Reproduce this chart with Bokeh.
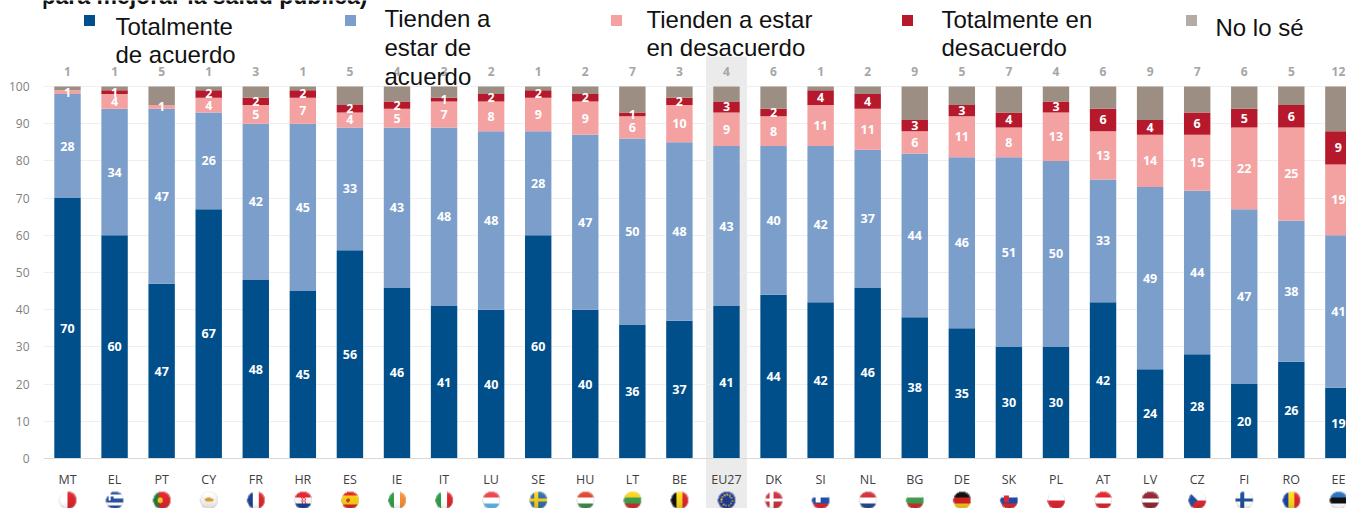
import numpy as np
from bokeh.plotting import figure
from bokeh.models import ColumnDataSource, Range1d, FixedTicker, Label
from bokeh.core.properties import value
from bokeh.embed import file_html
from bokeh.resources import INLINE

categories = ["MT","EL","PT","CY","FR","HR","ES","IE","IT","LU","SE","HU","LT","BE","EU27",
              "DK","SI","NL","BG","DE","SK","PL","AT","LV","CZ","FI","RO","EE"]
tot_agree  = [70,60,47,67,48,45,56,46,41,40,60,40,36,37,41,44,42,46,38,35,30,30,42,24,28,20,26,19]
tend_agree = [28,34,47,26,42,45,33,43,48,48,28,47,50,48,43,40,42,37,44,46,51,50,33,49,44,47,38,41]
tend_dis   = [1,4,1,4,5,7,4,5,7,8,9,9,6,10,9,8,11,11,6,11,8,13,13,14,15,22,25,19]
tot_dis    = [0,1,0,2,2,2,2,2,1,2,2,2,1,2,3,2,4,4,3,3,4,3,6,4,6,5,6,9]
dont_know  = [1,1,5,1,3,1,5,4,3,2,1,2,7,3,4,6,1,2,9,5,7,4,6,9,7,6,5,12]
y_ticks = [0,10,20,30,40,50,60,70,80,90,100]
series_names = ["Totalmente de acuerdo","Tienden a estar de acuerdo","Tienden a estar en desacuerdo",
                "Totalmente en desacuerdo","No lo sé"]
colors = ["#004f8a","#7b9ecb","#f4a1a1","#b5192b","#9c8e83"]
legend_lines = [["Totalmente","de acuerdo"],["Tienden a","estar de","acuerdo"],
                ["Tienden a estar","en desacuerdo"],["Totalmente en","desacuerdo"],["No lo sé"]]
title_tail = "para mejorar la salud pública)"

W, H = 1346, 508
FL = 43                 # frame left in page pixels
X0, DX = 67.0, 47.07    # pixel of first category, pixel step
Y0, SY = 458.0, 3.72    # pixel of value 0, pixels per unit
px = lambda v: (v - X0) / DX
py = lambda v: (Y0 - v) / SY

p = figure(width=W, height=H, output_backend="svg", toolbar_location=None,
           x_range=Range1d(px(FL), px(W)), y_range=Range1d(py(H), py(0)),
           min_border_left=FL, min_border_right=0, min_border_top=0, min_border_bottom=0,
           outline_line_color=None, background_fill_color="white", border_fill_color="white")
p.margin = (0, 0, 0, 0)

# axes
xa = p.xaxis[0]
xa.fixed_location = 0
xa.ticker = FixedTicker(ticks=list(range(len(categories))))
xa.major_label_overrides = {i: c for i, c in enumerate(categories)}
xa.axis_line_color = "#d9d9d9"
xa.major_tick_line_color = None
xa.minor_tick_line_color = None
xa.major_label_standoff = 6
xa.major_label_text_font = "Open Sans"
xa.major_label_text_font_size = "12.5px"
xa.major_label_text_color = "#404040"
ya = p.yaxis[0]
ya.ticker = FixedTicker(ticks=y_ticks)
ya.bounds = (0, 100)
ya.axis_line_color = None
ya.major_tick_line_color = None
ya.minor_tick_line_color = None
ya.major_label_standoff = 8
ya.major_label_text_font = "Open Sans"
ya.major_label_text_font_size = "12px"
ya.major_label_text_color = "#7f7f7f"
p.xgrid.visible = False
p.ygrid.ticker = FixedTicker(ticks=y_ticks[1:])
p.ygrid.grid_line_color = "#efefef"
p.ygrid.level = "underlay"

# EU27 highlight
eu = categories.index("EU27")
p.quad(left=[eu - 20.5 / DX], right=[eu + 20.5 / DX], bottom=[py(H)], top=[py(56)],
       fill_color="#ebebeb", line_color=None, level="underlay")

# stacked bars
xs = list(range(len(categories)))
keys = ["a", "b", "c", "d", "e"]
arrays = [tot_agree, tend_agree, tend_dis, tot_dis, dont_know]
src = ColumnDataSource(dict(x=xs, **dict(zip(keys, arrays))))
p.vbar_stack(keys, x="x", width=26.4 / DX, source=src, color=colors, line_color=None)

# value labels inside the bars (no label on the top "No lo sé" segment)
lx, ly, lt = [], [], []
for i in xs:
    base = 0
    for arr in arrays[:4]:
        v = arr[i]
        if v > 0:
            lx.append(i); ly.append(base + v / 2); lt.append(str(v))
        base += v
p.text(lx, ly, text=lt, text_color="white", text_font=value("Open Sans"), text_font_style="bold",
       text_font_size="12.5px", text_align="center", text_baseline="middle")

# "No lo sé" values above the bars
p.text(xs, [py(71)] * len(xs), text=[str(v) for v in dont_know], text_color="#a6a6a6",
       text_font=value("Open Sans"), text_font_style="bold", text_font_size="12px",
       text_align="center", text_baseline="middle")

# flags
FLAGS = {
 "MT":("v",["#ffffff","#d8272e"]), "EL":("h",["#2a4f9e","#ffffff","#2a4f9e","#ffffff","#2a4f9e"]),
 "PT":("v",["#1f7a3a","#d8272e","#d8272e"]), "CY":("h",["#f0f0ea"]),
 "FR":("v",["#1d3f8f","#ffffff","#d8272e"]), "HR":("h",["#d8272e","#f4f4f4","#1d3f8f"]),
 "ES":("h",["#cf2a20","#f5c518","#f5c518","#cf2a20"]), "IE":("v",["#2f9a48","#ffffff","#f08a35"]),
 "IT":("v",["#2f9a48","#ffffff","#d8272e"]), "LU":("h",["#e0464a","#ffffff","#5cb4e6"]),
 "SE":("h",["#2f6ea5"]), "HU":("h",["#d8472e","#ffffff","#3f8a4a"]),
 "LT":("h",["#f0c91c","#3d9b4a","#c8302a"]), "BE":("v",["#111111","#f5d21f","#d8272e"]),
 "EU27":("h",["#1f3a93"]), "DK":("h",["#c8323a"]),
 "SI":("h",["#ffffff","#1d4fae","#d8272e"]), "NL":("h",["#c8323a","#ffffff","#27478f"]),
 "BG":("h",["#ffffff","#3f9a4f","#c8302a"]), "DE":("h",["#111111","#cc1f1f","#f2bf1a"]),
 "SK":("h",["#ffffff","#2048a8","#d8272e"]), "PL":("h",["#ffffff","#d8272e"]),
 "AT":("h",["#d8272e","#ffffff","#d8272e"]), "LV":("h",["#8e2a35","#8e2a35","#ffffff","#8e2a35","#8e2a35"]),
 "CZ":("h",["#ffffff","#d8272e"]), "FI":("h",["#ffffff"]),
 "RO":("v",["#1d3f9e","#f5d21f","#d8272e"]), "EE":("h",["#2a6fb5","#111111","#ffffff"]),
}
CROSS = {"SE":"#f2c81e", "DK":"#ffffff", "FI":"#1f4f96"}
N = 36

def hex_rgb(h):
    return [int(h[i:i+2], 16) for i in (1, 3, 5)]

def flag_image(code):
    kind, cols = FLAGS[code]
    yy, xx = np.mgrid[0:N, 0:N]
    u, v = (xx + .5) / N, (yy + .5) / N     # v runs from the top of the flag
    t = u if kind == "v" else v
    idx = np.minimum((t * len(cols)).astype(int), len(cols) - 1)
    rgb = np.array([hex_rgb(c) for c in cols])[idx].astype(float)
    if code in CROSS:
        c = hex_rgb(CROSS[code])
        rgb[(np.abs(u - .38) < .09) | (np.abs(v - .5) < .09)] = c
    if code == "EL":
        rgb[(u < .42) & (v < .5)] = hex_rgb("#2a4f9e")
        rgb[((np.abs(u - .21) < .05) | (np.abs(v - .25) < .05)) & (u < .42) & (v < .5)] = [255, 255, 255]
    if code == "CZ":
        rgb[u < .5 * (1 - np.abs(v - .5) * 2)] = hex_rgb("#1d4f9e")
    if code == "PT":
        rgb[(u - .4) ** 2 + (v - .5) ** 2 < .025] = hex_rgb("#f2c81e")
    if code == "CY":
        rgb[((u - .5) ** 2 / .06 + (v - .47) ** 2 / .012) < 1] = hex_rgb("#d69a3c")
    if code == "HR":
        rgb[(np.abs(u - .5) < .14) & (np.abs(v - .5) < .2) & (((xx // 3 + yy // 3) % 2) == 0)] = hex_rgb("#d8272e")
    if code in ("SK", "SI"):
        rgb[(np.abs(u - .33) < .13) & (np.abs(v - .45) < .2)] = hex_rgb("#d8272e" if code == "SK" else "#ffffff")
    if code == "ES":
        rgb[(u - .38) ** 2 + (v - .5) ** 2 < .012] = hex_rgb("#b5482a")
    if code == "EU27":
        ring = np.abs(np.hypot(u - .5, v - .5) - .3) < .05
        ang = np.arctan2(v - .5, u - .5)
        rgb[ring & (np.mod(ang, np.pi / 6) < np.pi / 12)] = hex_rgb("#f2c81e")
    r = np.hypot(u - .5, v - .5)
    rgb[r > .44] = rgb[r > .44] * .55 + np.array([200, 200, 200]) * .45
    shade = 1 + .22 * np.clip(.5 - v, 0, .5) - .25 * np.clip(v - .6, 0, .4)
    rgb = np.clip(rgb * shade[..., None], 0, 255)
    img = np.zeros((N, N), dtype=np.uint32)
    view = img.view(dtype=np.uint8).reshape((N, N, 4))
    view[..., :3] = rgb.astype(np.uint8)
    view[..., 3] = np.where(r <= .5, 255, 0)
    return img[::-1]

fw, fh = 18 / DX, 18 / SY
p.image_rgba(image=[flag_image(c) for c in categories], x=[i - fw / 2 for i in xs],
             y=[py(509)] * len(xs), dw=[fw] * len(xs), dh=[fh] * len(xs))

# legend
sq_x = [89, 350, 616, 907, 1191]
sq_y = [20, 20, 20, 20, 20]
txt_x = [115, 384, 646, 941, 1215]
txt_y = [[26, 54], [18, 47, 76], [19, 47], [19, 47], [27]]
p.scatter([px(v) for v in sq_x], [py(v) for v in sq_y], marker="square", size=11,
          color=["#004f8a", "#7b9ecb", "#f4a1a1", "#b5192b", "#b3aba4"], line_color=None)
tx, ty, tt = [], [], []
for lines, x0, ys in zip(legend_lines, txt_x, txt_y):
    for line, yy_ in zip(lines, ys):
        tx.append(px(x0)); ty.append(py(yy_)); tt.append(line)
p.text(tx, ty, text=tt, text_color="#111111", text_font=value("Liberation Sans"),
       text_font_size="24px", text_align="left", text_baseline="alphabetic")

p.add_layout(Label(x=px(41), y=py(-5), text=title_tail, text_color="#111111",
                   text_font="Liberation Sans", text_font_style="bold", text_font_size="23px",
                   text_align="left", text_baseline="alphabetic"))

open("out.html", "w").write(file_html(p, INLINE))
